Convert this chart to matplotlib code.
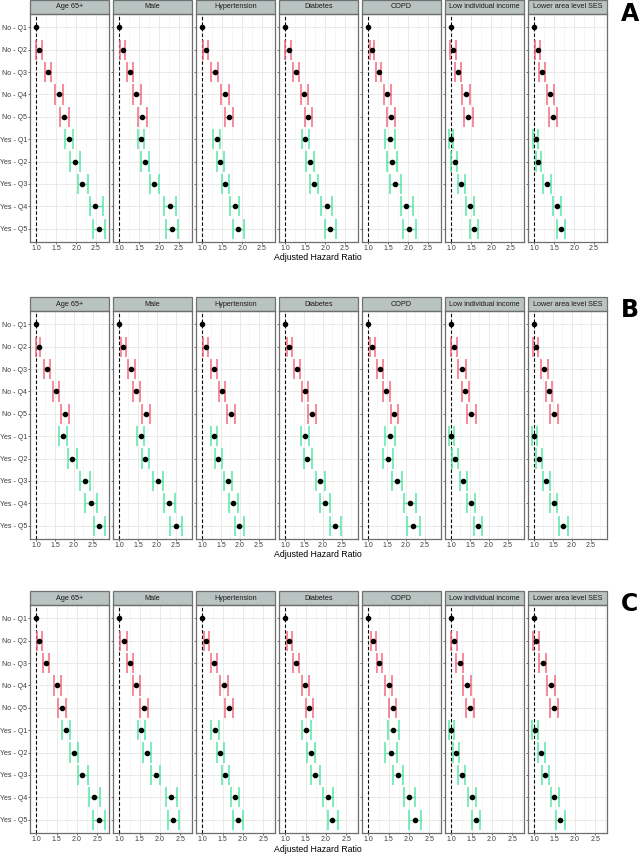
import numpy as np
import matplotlib
matplotlib.use("Agg")
import matplotlib.pyplot as plt
from matplotlib.patches import Rectangle

plt.rcParams['font.family'] = ['Liberation Sans', 'DejaVu Sans']

categories = ['No - Q1', 'No - Q2', 'No - Q3', 'No - Q4', 'No - Q5',
              'Yes - Q1', 'Yes - Q2', 'Yes - Q3', 'Yes - Q4', 'Yes - Q5']
facets = ['Age 65+', 'Male', 'Hypertension', 'Diabetes', 'COPD',
          'Low individual income', 'Lower area level SES']
xticks = [1.0, 1.5, 2.0, 2.5]

# panel A: one row per facet, one value per category
A_est = [[1, 1.07, 1.29, 1.56, 1.69, 1.82, 1.97, 2.16, 2.49, 2.57],
         [1, 1.08, 1.27, 1.43, 1.58, 1.54, 1.64, 1.87, 2.28, 2.33],
         [1, 1.08, 1.31, 1.58, 1.68, 1.37, 1.45, 1.58, 1.81, 1.91],
         [1, 1.08, 1.27, 1.48, 1.58, 1.50, 1.63, 1.71, 2.04, 2.13],
         [1, 1.08, 1.26, 1.48, 1.58, 1.55, 1.59, 1.68, 1.96, 2.03],
         [1, 1.04, 1.16, 1.36, 1.43, 0.98, 1.08, 1.25, 1.48, 1.57],
         [1, 1.08, 1.19, 1.40, 1.48, 1.03, 1.10, 1.32, 1.56, 1.67]]
A_lo = [[1, 1.00, 1.22, 1.46, 1.59, 1.72, 1.86, 2.04, 2.34, 2.42],
        [1, 1.02, 1.19, 1.34, 1.48, 1.46, 1.55, 1.76, 2.12, 2.18],
        [1, 1.02, 1.23, 1.48, 1.58, 1.28, 1.36, 1.49, 1.69, 1.78],
        [1, 1.00, 1.19, 1.40, 1.49, 1.41, 1.52, 1.61, 1.91, 1.99],
        [1, 1.03, 1.18, 1.40, 1.48, 1.43, 1.46, 1.54, 1.81, 1.88],
        [1, 0.97, 1.08, 1.26, 1.33, 0.93, 1.00, 1.17, 1.38, 1.47],
        [1, 1.01, 1.12, 1.31, 1.38, 0.96, 1.03, 1.23, 1.46, 1.56]]
A_hi = [[1, 1.13, 1.36, 1.66, 1.81, 1.92, 2.09, 2.29, 2.67, 2.74],
        [1, 1.15, 1.34, 1.54, 1.69, 1.63, 1.74, 1.99, 2.43, 2.49],
        [1, 1.14, 1.39, 1.68, 1.78, 1.45, 1.54, 1.68, 1.93, 2.04],
        [1, 1.13, 1.34, 1.58, 1.68, 1.60, 1.73, 1.83, 2.18, 2.28],
        [1, 1.13, 1.33, 1.57, 1.67, 1.68, 1.73, 1.81, 2.12, 2.20],
        [1, 1.12, 1.24, 1.47, 1.54, 1.05, 1.14, 1.34, 1.58, 1.68],
        [1, 1.14, 1.28, 1.50, 1.58, 1.10, 1.17, 1.41, 1.68, 1.78]]

# panel B
B_est = [[1, 1.07, 1.30, 1.53, 1.76, 1.71, 1.94, 2.29, 2.46, 2.67],
         [1, 1.12, 1.33, 1.46, 1.72, 1.57, 1.70, 2.02, 2.33, 2.50],
         [1, 1.11, 1.32, 1.53, 1.76, 1.31, 1.43, 1.68, 1.82, 1.99],
         [1, 1.11, 1.32, 1.52, 1.71, 1.54, 1.59, 1.93, 2.05, 2.32],
         [1, 1.11, 1.32, 1.49, 1.69, 1.57, 1.53, 1.77, 2.10, 2.18],
         [1, 1.08, 1.29, 1.37, 1.54, 1.00, 1.11, 1.32, 1.53, 1.71],
         [1, 1.05, 1.27, 1.39, 1.53, 1.01, 1.14, 1.33, 1.53, 1.77]]
B_lo = [[1, 1.00, 1.21, 1.44, 1.66, 1.62, 1.84, 2.15, 2.30, 2.52],
        [1, 1.05, 1.25, 1.37, 1.61, 1.47, 1.61, 1.90, 2.18, 2.34],
        [1, 1.04, 1.25, 1.45, 1.67, 1.23, 1.35, 1.59, 1.72, 1.88],
        [1, 1.05, 1.25, 1.45, 1.61, 1.43, 1.50, 1.82, 1.92, 2.19],
        [1, 1.05, 1.25, 1.41, 1.60, 1.44, 1.39, 1.63, 1.94, 2.02],
        [1, 1.01, 1.19, 1.28, 1.43, 0.94, 1.03, 1.24, 1.42, 1.61],
        [1, 0.99, 1.19, 1.31, 1.43, 0.95, 1.06, 1.25, 1.43, 1.66]]
B_hi = [[1, 1.12, 1.37, 1.62, 1.87, 1.82, 2.08, 2.42, 2.62, 2.83],
        [1, 1.19, 1.42, 1.55, 1.82, 1.67, 1.80, 2.15, 2.48, 2.66],
        [1, 1.17, 1.41, 1.61, 1.88, 1.39, 1.52, 1.79, 1.94, 2.12],
        [1, 1.18, 1.40, 1.60, 1.81, 1.64, 1.71, 2.05, 2.19, 2.47],
        [1, 1.18, 1.40, 1.58, 1.79, 1.72, 1.67, 1.91, 2.26, 2.36],
        [1, 1.16, 1.39, 1.47, 1.65, 1.07, 1.18, 1.42, 1.64, 1.83],
        [1, 1.12, 1.36, 1.49, 1.63, 1.07, 1.22, 1.42, 1.62, 1.89]]

# panel C
C_est = [[1, 1.07, 1.24, 1.51, 1.63, 1.72, 1.93, 2.13, 2.42, 2.54],
         [1, 1.11, 1.26, 1.42, 1.60, 1.54, 1.69, 1.89, 2.28, 2.32],
         [1, 1.10, 1.29, 1.53, 1.66, 1.30, 1.43, 1.56, 1.80, 1.87],
         [1, 1.10, 1.26, 1.49, 1.59, 1.50, 1.64, 1.74, 2.04, 2.16],
         [1, 1.12, 1.26, 1.50, 1.60, 1.60, 1.55, 1.72, 2.00, 2.14],
         [1, 1.06, 1.20, 1.38, 1.45, 1.00, 1.11, 1.25, 1.50, 1.61],
         [1, 1.03, 1.20, 1.41, 1.47, 1.01, 1.17, 1.26, 1.49, 1.64]]
C_lo = [[1, 1.01, 1.17, 1.44, 1.54, 1.63, 1.83, 2.02, 2.29, 2.39],
        [1, 1.02, 1.18, 1.34, 1.51, 1.45, 1.58, 1.78, 2.16, 2.19],
        [1, 1.04, 1.21, 1.44, 1.56, 1.22, 1.35, 1.47, 1.70, 1.75],
        [1, 1.05, 1.19, 1.42, 1.51, 1.41, 1.54, 1.64, 1.92, 2.06],
        [1, 1.07, 1.20, 1.42, 1.51, 1.47, 1.42, 1.60, 1.87, 1.99],
        [1, 0.98, 1.12, 1.29, 1.35, 0.93, 1.03, 1.17, 1.41, 1.50],
        [1, 0.96, 1.12, 1.31, 1.39, 0.94, 1.10, 1.19, 1.40, 1.53]]
C_hi = [[1, 1.13, 1.31, 1.60, 1.74, 1.82, 2.03, 2.26, 2.57, 2.70],
        [1, 1.18, 1.33, 1.51, 1.70, 1.62, 1.78, 2.00, 2.42, 2.46],
        [1, 1.17, 1.36, 1.62, 1.76, 1.40, 1.52, 1.66, 1.90, 2.00],
        [1, 1.17, 1.34, 1.57, 1.69, 1.62, 1.74, 1.86, 2.18, 2.30],
        [1, 1.18, 1.33, 1.58, 1.69, 1.75, 1.70, 1.86, 2.15, 2.30],
        [1, 1.14, 1.29, 1.49, 1.56, 1.07, 1.19, 1.34, 1.61, 1.71],
        [1, 1.11, 1.28, 1.50, 1.57, 1.08, 1.25, 1.35, 1.60, 1.75]]

RED = '#F26B80'
GREEN = '#5BE6A8'
W, H = 641, 855


def draw_group(top_px, est, lo, hi, letter, xlab_px, letter_px):
    panel_h = 228
    first = None
    ypos = np.arange(len(categories))
    cols = [RED if c.startswith('No') else GREEN for c in categories]
    for j, name in enumerate(facets):
        left_px = 30 + 83 * j
        rect = [left_px / W, 1 - (top_px + panel_h) / H, 79 / W, panel_h / H]
        ax = fig.add_axes(rect, sharex=first)
        if first is None:
            first = ax
        e = np.array(est[j])
        l = np.array(lo[j])
        h = np.array(hi[j])
        # reference row (No - Q1) has no interval
        ax.hlines(ypos[1:], l[1:], h[1:], colors=cols[1:], lw=1.0, zorder=3)
        ax.vlines(l[1:], ypos[1:] - 0.45, ypos[1:] + 0.45, colors=cols[1:],
                  lw=1.1, zorder=3)
        ax.vlines(h[1:], ypos[1:] - 0.45, ypos[1:] + 0.45, colors=cols[1:],
                  lw=1.1, zorder=3)
        ax.plot(e, ypos, 'o', color='black', markersize=3, zorder=4)
        ax.axvline(1.0, color='black', linestyle=(0, (3, 2)), lw=0.8, zorder=2)

        ax.set_ylim(len(categories) - 0.4, -0.6)
        ax.set_yticks(ypos)
        if j == 0:
            ax.set_yticklabels(categories)
        else:
            ax.tick_params(axis='y', labelleft=False)
        ax.set_xticks(xticks)
        ax.set_xticks([1.25, 1.75, 2.25, 2.75], minor=True)
        ax.set_xticklabels([f'{t:.1f}' for t in xticks])
        ax.grid(which='major', color='#E6E6E6', lw=0.6)
        ax.grid(which='minor', axis='x', color='#F0F0F0', lw=0.4)
        ax.set_axisbelow(True)
        ax.tick_params(which='major', length=1.3, width=0.6, color='#555555',
                       labelsize=5.0, labelcolor='#3A3A3A', pad=0.8)
        ax.tick_params(which='minor', length=0)
        for sp in ax.spines.values():
            sp.set_color('#6E6E6E')
            sp.set_linewidth(0.9)

        # facet strip
        sh = 14 / panel_h
        ax.add_patch(Rectangle((0, 1), 1, sh, transform=ax.transAxes,
                               facecolor='#B9C3C1', edgecolor='#6E7371',
                               lw=0.9, clip_on=False))
        ax.text(0.5, 1 + sh / 2, name, transform=ax.transAxes,
                ha='center', va='center', fontsize=5.2, color='#1A1A1A')

    fig.text(318 / W, 1 - xlab_px / H, 'Adjusted Hazard Ratio',
             ha='center', va='center', fontsize=6.3)
    fig.text(630 / W, 1 - letter_px / H, letter, ha='center', va='center',
             fontsize=17, fontweight='bold', family='DejaVu Sans')


fig = plt.figure(figsize=(W / 100, H / 100), dpi=100)
draw_group(14, A_est, A_lo, A_hi, 'A', 257, 14)
draw_group(311, B_est, B_lo, B_hi, 'B', 554, 310)
draw_group(605, C_est, C_lo, C_hi, 'C', 849, 604)
fig.savefig('out.png', dpi=100)
